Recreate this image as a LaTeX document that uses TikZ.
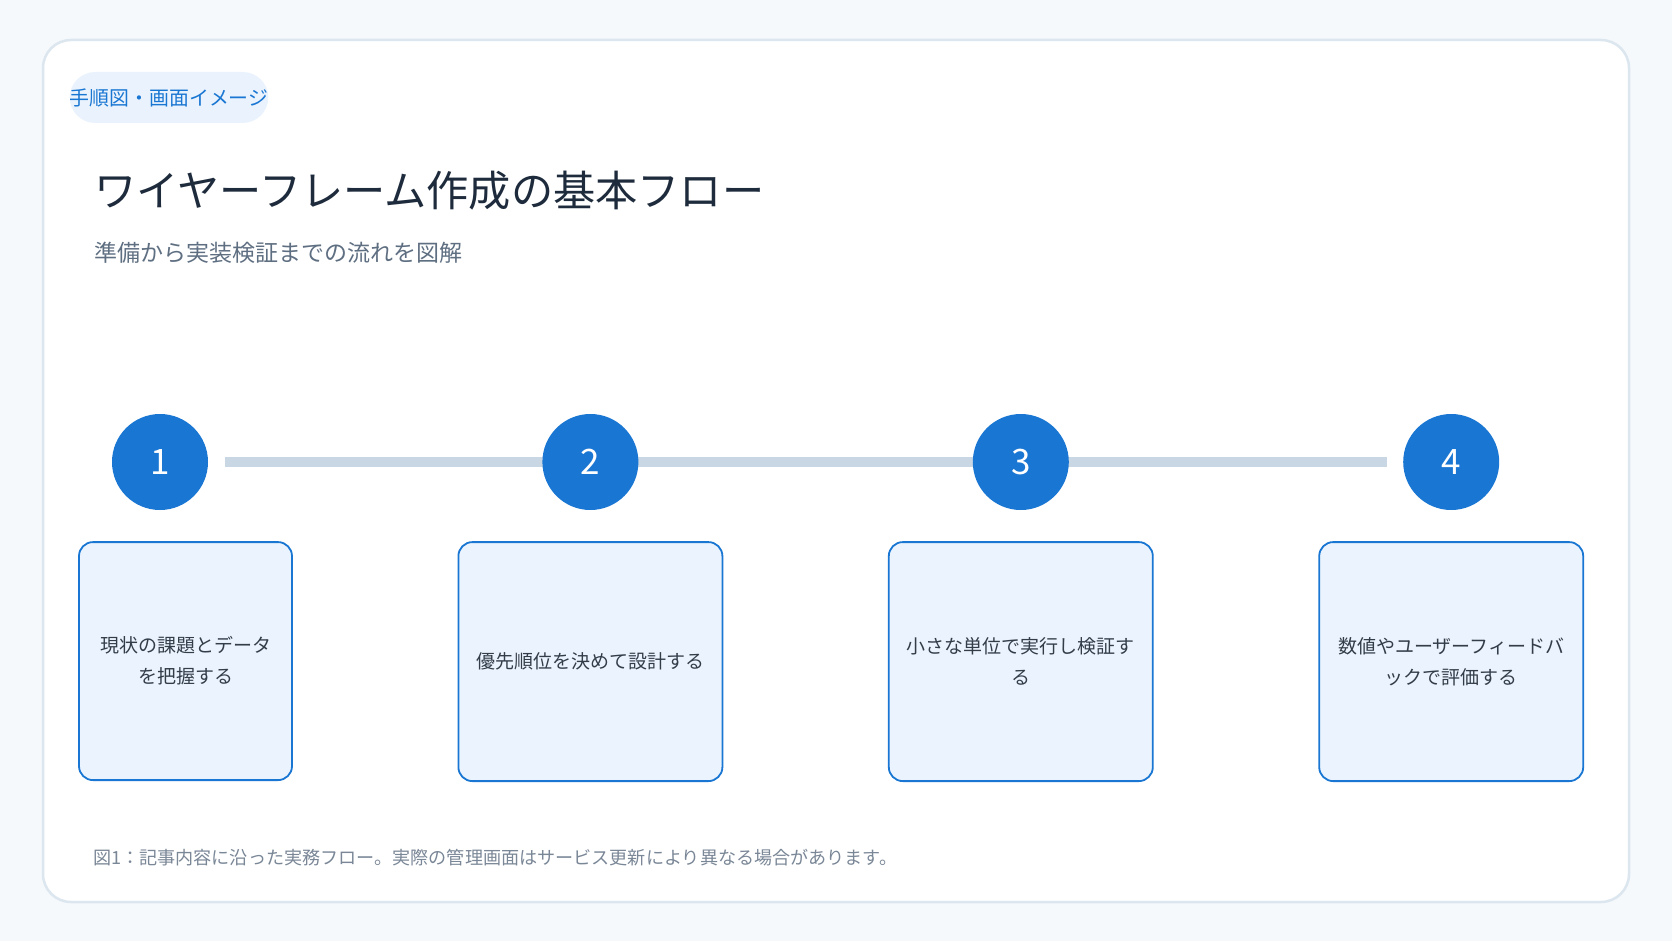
\documentclass[tikz,border=0pt]{standalone}
\usepackage{fontspec}
\setmainfont{Noto Sans CJK JP}
\usepackage{tikz}
\usetikzlibrary{positioning, backgrounds}

\definecolor{pagebg}{HTML}{F5F9FC}
\definecolor{cardline}{HTML}{DCE6EF}
\definecolor{stepblue}{HTML}{1976D2}
\definecolor{boxfill}{HTML}{EBF4FE}
\definecolor{tagfill}{HTML}{EAF3FD}
\definecolor{trackgray}{HTML}{C9D7E5}
\definecolor{titleink}{HTML}{1E2B3C}
\definecolor{subink}{HTML}{5F6F82}
\definecolor{boxink}{HTML}{333D4A}
\definecolor{noteink}{HTML}{7A8797}

\begin{document}
\begin{tikzpicture}[x=1pt, y=-1pt, node distance=31pt]
	\tikzstyle{stepnum} = [circle, fill=stepblue, text=white, minimum size=96pt, inner sep=0pt, font=\fontsize{35}{35}\selectfont]
	
	\tikzstyle{stepbox} = [rectangle, rounded corners=14pt, minimum width=264pt, minimum height=239pt, align=center, draw=stepblue, line width=1.8pt, fill=boxfill, text=boxink, font=\fontsize{19}{31}\selectfont]
	
	\tikzstyle{track} = [trackgray, line width=10pt]
	
	% Page and card
	\useasboundingbox (0,0) rectangle (1672,941);
	\begin{scope}[on background layer]
		\fill [pagebg] (0,0) rectangle (1672,941);
		\draw [cardline, fill=white, line width=2.5pt, rounded corners=28pt] (43,40) rectangle (1629,902);
	\end{scope}
	
	% Headings
	\node (tag) [fill=tagfill, rounded corners=25.5pt, minimum height=51pt, inner xsep=0pt, text=stepblue, font=\fontsize{19.9}{19.9}\selectfont] at (169,97.5) {手順図・画面イメージ};
	\node (title) [anchor=west, inner sep=0pt, text=titleink, font=\fontsize{42.2}{42.2}\selectfont] at (94,191) {ワイヤーフレーム作成の基本フロー};
	\node (subtitle) [anchor=west, inner sep=0pt, text=subink, font=\fontsize{23}{23}\selectfont] at (94,253) {準備から実装検証までの流れを図解};
	
	% Step circles
	\node (c1) [stepnum] at (160,462) {1};
	\node (c2) [stepnum, right=334pt of c1] {2};
	\node (c3) [stepnum, right=334pt of c2] {3};
	\node (c4) [stepnum, right=334pt of c3] {4};
	
	% Step boxes
	\node (b1) [stepbox, below=31pt of c1, xshift=25.5pt, minimum width=213pt, minimum height=238pt] {現状の課題とデータ\\を把握する};
	\node (b2) [stepbox, below=31pt of c2] {優先順位を決めて設計する};
	\node (b3) [stepbox, below=31pt of c3] {小さな単位で実行し検証す\\る};
	\node (b4) [stepbox, below=31pt of c4] {数値やユーザーフィードバ\\ックで評価する};
	
	% Track behind the circles
	\begin{scope}[on background layer]
		\draw [track] ([xshift=17pt]c1.east) -- ([xshift=-16pt]c4.west);
	\end{scope}
	
	% Caption
	\node (note) [anchor=west, inner sep=0pt, text=noteink, font=\fontsize{18.1}{18.1}\selectfont] at (93,858) {図1：記事内容に沿った実務フロー。実際の管理画面はサービス更新により異なる場合があります。};
\end{tikzpicture}
\end{document}
